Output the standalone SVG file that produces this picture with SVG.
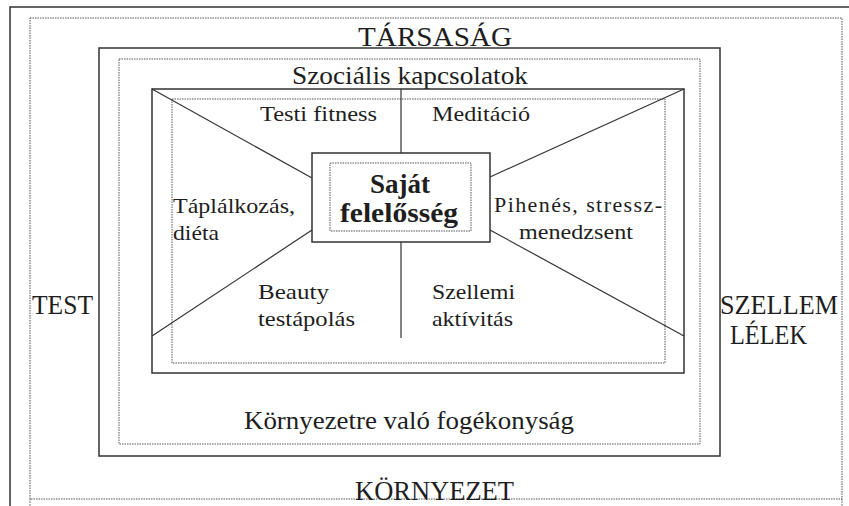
<svg xmlns="http://www.w3.org/2000/svg" width="849" height="506" viewBox="0 0 849 506">
<defs>
<style>
.solid{fill:none;stroke:#333;stroke-width:1.5}
.dot{fill:none;stroke:#555;stroke-width:1;stroke-dasharray:1.5 1}
.ln{fill:none;stroke:#333;stroke-width:1.2}
text{font-family:"Liberation Serif","Times New Roman",serif;fill:#1e1e1e}
.big{font-size:28px}
.mid{font-size:26px}
.sm{font-size:22px}
.bold{font-size:27px;font-weight:bold}
</style>
</defs>
<rect x="0" y="0" width="849" height="506" fill="#fff"/>
<g id="tarsasag">
<path class="solid" d="M10,506 V7 H849"/>
<rect class="dot" x="30" y="18" width="812" height="481"/>
<path class="dot" d="M30,499 V506 M842,499 V506"/>
<text class="big" x="358" y="46" textLength="154" lengthAdjust="spacingAndGlyphs">TÁRSASÁG</text>
<text class="big" x="32" y="314" textLength="61" lengthAdjust="spacingAndGlyphs">TEST</text>
<text class="big" x="720" y="314" textLength="118" lengthAdjust="spacingAndGlyphs">SZELLEM</text>
<text class="big" x="730" y="344" textLength="77" lengthAdjust="spacingAndGlyphs">LÉLEK</text>
<text class="big" x="355" y="500" textLength="159" lengthAdjust="spacingAndGlyphs">KÖRNYEZET</text>
</g>
<g id="szocialis">
<rect class="solid" x="99" y="48" width="621" height="408"/>
<rect class="dot" x="119" y="59" width="581" height="385"/>
<text class="mid" x="292" y="84" textLength="236" lengthAdjust="spacingAndGlyphs">Szociális kapcsolatok</text>
<text class="mid" x="244" y="429" textLength="330" lengthAdjust="spacingAndGlyphs">Környezetre való fogékonyság</text>
</g>
<g id="belso">
<rect class="solid" x="152" y="89" width="532" height="284"/>
<rect class="dot" x="172" y="99" width="493" height="264"/>
</g>
<g id="connectors">
<path class="ln" d="M401,89 V153 M401,242 V338"/>
<path class="ln" d="M152,89 L312,178 M312,230 L152,336 M684,89 L490,177 M490,230 L684,336"/>
</g>
<g id="sajat">
<rect class="solid" x="312" y="153" width="178" height="89" fill="#fff"/>
<rect class="dot" x="330" y="163" width="141" height="68"/>
<text class="bold" x="370" y="193" textLength="60" lengthAdjust="spacingAndGlyphs">Saját</text>
<text class="bold" x="340" y="222" textLength="118" lengthAdjust="spacingAndGlyphs">felelősség</text>
</g>
<g id="fitness"><text class="sm" x="260" y="121" textLength="117" lengthAdjust="spacingAndGlyphs">Testi fitness</text></g>
<g id="meditacio"><text class="sm" x="432" y="121" textLength="98" lengthAdjust="spacingAndGlyphs">Meditáció</text></g>
<g id="taplalkozas">
<text class="sm" x="173" y="213" textLength="122" lengthAdjust="spacingAndGlyphs">Táplálkozás,</text>
<text class="sm" x="173" y="240" textLength="46" lengthAdjust="spacingAndGlyphs">diéta</text>
</g>
<g id="pihenes">
<text class="sm" x="494" y="212" textLength="168" lengthAdjust="spacing">Pihenés, stressz-</text>
<text class="sm" x="519" y="239" textLength="114" lengthAdjust="spacingAndGlyphs">menedzsent</text>
</g>
<g id="beauty">
<text class="sm" x="258" y="299" textLength="71" lengthAdjust="spacingAndGlyphs">Beauty</text>
<text class="sm" x="258" y="326" textLength="97" lengthAdjust="spacingAndGlyphs">testápolás</text>
</g>
<g id="szellemi">
<text class="sm" x="432" y="299" textLength="83" lengthAdjust="spacingAndGlyphs">Szellemi</text>
<text class="sm" x="432" y="326" textLength="81" lengthAdjust="spacingAndGlyphs">aktívitás</text>
</g>
</svg>
